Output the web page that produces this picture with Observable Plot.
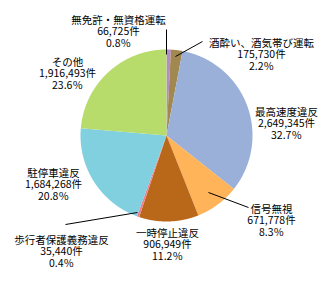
<!DOCTYPE html>
<html>
<head>
<meta charset="utf-8">
<script src="https://cdn.jsdelivr.net/npm/d3@7"></script>
<script src="https://cdn.jsdelivr.net/npm/@observablehq/plot@0.6"></script>
<style>
html,body{margin:0;padding:0;background:#fff;}
</style>
</head>
<body>
<div id="chart"></div>
<script>
// Data
const categories = ["無免許・無資格運転","酒酔い、酒気帯び運転","最高速度違反","信号無視","一時停止違反","歩行者保護義務違反","駐停車違反","その他"];
const counts = [66725, 175730, 2649345, 671778, 906949, 35440, 1684268, 1916493];
const countLabels = ["66,725件","175,730件","2,649,345件","671,778件","906,949件","35,440件","1,684,268件","1,916,493件"];
const percentLabels = ["0.8％","2.2％","32.7％","8.3％","11.2％","0.4％","20.8％","23.6％"];
const colors = ["#b48cc8","#a08850","#9ab0d8","#ffb45a","#b86818","#f08090","#80d0e0","#b8dc6c"];

// Layout
const W = 333, H = 282, cx = 166, cy = 135, R = 86;
const labelPos = [[118,31],[261,54],[286,123],[271,220],[167,244],[61,251],[53,184],[67,73]];
const leaders = [
  {x1:166, y1:29, x2:166, y2:54},
  {x1:202, y1:41, x2:175, y2:56},
  {x1:208, y1:192, x2:248, y2:207},
  {x1:65, y1:224, x2:137, y2:212}
];

const arcs = d3.pie().sort(null).value(d => d)(counts);
const pts = [];
arcs.forEach((a, i) => {
  const name = categories[i];
  pts.push({name, x: cx, y: cy});
  const n = Math.max(2, Math.ceil((a.endAngle - a.startAngle) / 0.005));
  for (let k = 0; k <= n; k++) {
    const t = a.startAngle + (a.endAngle - a.startAngle) * k / n;
    pts.push({name, x: cx + R * Math.sin(t), y: cy - R * Math.cos(t)});
  }
  pts.push({name, x: cx, y: cy});
});

const labels = categories.map((c, i) => ({
  text: c + "\n" + countLabels[i] + "\n" + percentLabels[i],
  x: labelPos[i][0], y: labelPos[i][1]
}));

const chart = Plot.plot({
  width: W, height: H,
  margin: 0,
  x: {domain: [0, W], range: [0, W], axis: null},
  y: {domain: [0, H], range: [0, H], axis: null},
  color: {domain: categories, range: colors},
  style: {fontFamily: "'Noto Sans CJK JP', sans-serif", background: "#fff"},
  marks: [
    Plot.line(pts, {x: "x", y: "y", z: "name", fill: "name", stroke: "none", curve: "linear"}),
    Plot.link(leaders, {x1: "x1", y1: "y1", x2: "x2", y2: "y2", stroke: "#000", strokeWidth: 1}),
    Plot.text(labels, {x: "x", y: "y", text: "text", fontSize: 10.5, lineHeight: 1.12, fill: "#000", textAnchor: "middle", lineAnchor: "middle"})
  ]
});
document.getElementById("chart").appendChild(chart);
</script>
</body>
</html>
